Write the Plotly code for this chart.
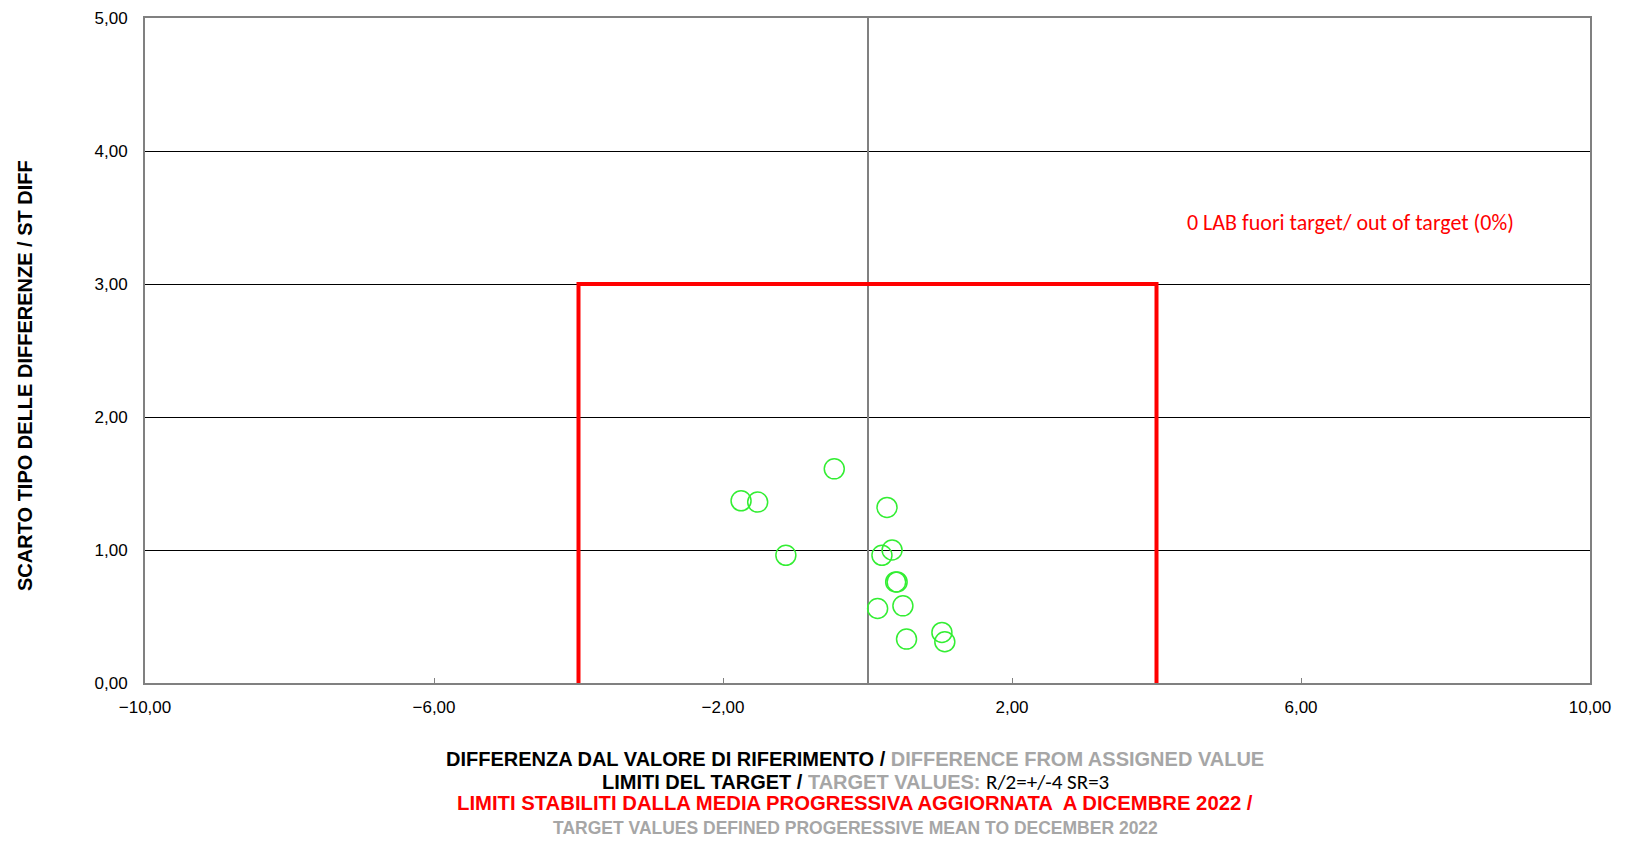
import plotly.graph_objects as go

# Data
diff_values = [-0.46, -1.75, -1.52, 0.27, -1.13, 0.20, 0.34, 0.41, 0.39, 0.49, 0.14, 0.54, 1.03, 1.07]
st_diff_values = [1.61, 1.37, 1.36, 1.32, 0.96, 0.96, 1.00, 0.76, 0.76, 0.58, 0.56, 0.33, 0.38, 0.31]
limit_r = [-4, 4]
limit_sr = 3
x_ticks = [-10, -6, -2, 2, 6, 10]
y_ticks = [0, 1, 2, 3, 4, 5]

NARROW = "'Liberation Sans Narrow', 'Arial Narrow', 'Liberation Sans', Arial, sans-serif"
CAL = "Carlito, Calibri, Lato, sans-serif"
GRAY = "#a6a6a6"

# page body has an 8px margin
W, H = 1609, 831
L, T = 137, 10
PW, PH = 1445, 665
R = W - L - PW
B = H - T - PH

fig = go.Figure()

# target box
fig.add_trace(go.Scatter(
    x=[limit_r[0], limit_r[0], limit_r[1], limit_r[1]],
    y=[0, limit_sr, limit_sr, 0],
    mode="lines", line=dict(color="#ff0000", width=4),
    hoverinfo="skip", showlegend=False, cliponaxis=False))

fig.add_trace(go.Scatter(
    x=diff_values, y=st_diff_values, mode="markers",
    marker=dict(symbol="circle-open", size=20, color="#33ee33", line=dict(width=1.5, color="#33ee33")),
    showlegend=False))

fig.update_layout(
    width=W, height=H,
    margin=dict(l=L, r=R, t=T, b=B, autoexpand=False),
    paper_bgcolor="white", plot_bgcolor="white",
    separators=",.",
    font=dict(family="'Liberation Sans', Arial, sans-serif", size=16, color="black"),
    xaxis=dict(range=[-10, 10], tickvals=x_ticks, tickformat=".2f", automargin=False,
               showgrid=False, zeroline=True, zerolinecolor="#808080", zerolinewidth=1.5,
               showline=True, linecolor="#808080", linewidth=2, mirror=True,
               ticks="inside", ticklen=5, tickcolor="#808080",
               ticklabelstandoff=8,
               tickfont=dict(size=17)),
    yaxis=dict(range=[0, 5], tickvals=y_ticks, tickformat=".2f", automargin=False,
               showgrid=True, gridcolor="#000000", gridwidth=1, zeroline=False,
               showline=True, linecolor="#808080", linewidth=2, mirror=True,
               ticks="", ticklabelstandoff=12, tickfont=dict(size=17)),
)


def py(px):
    return (T + PH - px) / PH


def px_(px):
    return (px - L) / PW


annotations = [
    dict(text="<b>SCARTO TIPO DELLE DIFFERENZE / ST DIFF</b>", x=px_(25 - 8), y=py(376 - 8),
         xref="paper", yref="paper", textangle=-90, showarrow=False,
         xanchor="center", yanchor="middle", font=dict(family=NARROW, size=20, color="black")),
    dict(text="0 LAB fuori target/ out of target (0%)", x=px_(1185 - 8), y=py(222 - 8),
         xref="paper", yref="paper", showarrow=False, xanchor="left", yanchor="middle",
         font=dict(family=CAL, size=22, color="#ff0000")),
    dict(text="<b>DIFFERENZA DAL VALORE DI RIFERIMENTO / </b><b><span style='color:%s'>DIFFERENCE FROM ASSIGNED VALUE</span></b>" % GRAY,
         x=px_(855 - 8), y=py(759 - 8), xref="paper", yref="paper", showarrow=False,
         xanchor="center", yanchor="middle", font=dict(family=NARROW, size=20, color="black")),
    dict(text="<b>LIMITI DEL TARGET / </b><b><span style='color:%s'>TARGET VALUES: </span></b><span style=\"font-family:Carlito, Calibri, Lato, sans-serif; font-size:21px\">R/2=+/-4 SR=3</span>" % GRAY,
         x=px_(855 - 8), y=py(782 - 8), xref="paper", yref="paper", showarrow=False,
         xanchor="center", yanchor="middle", font=dict(family=NARROW, size=20, color="black")),
    dict(text="<b>LIMITI STABILITI DALLA MEDIA PROGRESSIVA AGGIORNATA  A DICEMBRE 2022 /</b>",
         x=px_(855 - 8), y=py(803 - 8), xref="paper", yref="paper", showarrow=False,
         xanchor="center", yanchor="middle", font=dict(family=NARROW, size=20.3, color="#ff0000")),
    dict(text="<b>TARGET VALUES DEFINED PROGERESSIVE MEAN TO DECEMBER 2022</b>",
         x=px_(855 - 8), y=py(831), xref="paper", yref="paper", showarrow=False,
         xanchor="center", yanchor="bottom", borderpad=0,
         font=dict(family=NARROW, size=17.5, color=GRAY)),
]
fig.update_layout(annotations=annotations)

fig.write_html("out.html")
